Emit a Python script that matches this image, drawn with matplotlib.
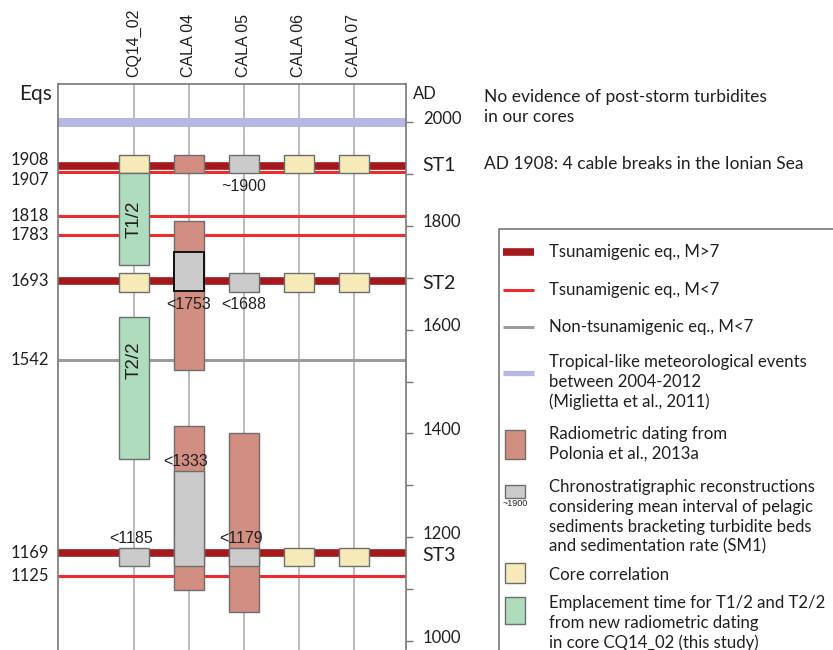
import matplotlib.pyplot as plt
import matplotlib.transforms as mtransforms
from matplotlib.patches import Rectangle
from matplotlib.lines import Line2D

# cores (x positions are just their index)
cores = ["CQ14_02", "CALA 04", "CALA 05", "CALA 06", "CALA 07"]

# earthquakes (AD) and their type
eq_years = [1908, 1907, 1818, 1783, 1693, 1542, 1169, 1125]
eq_kind = ["big", "small", "small", "small", "big", "non", "big", "small"]
storm_year = 2000

# dated intervals per core (AD)
box_core = [0, 1, 2, 3, 4, 0, 1, 1, 0, 2, 3, 4, 0, 1, 1, 2, 2, 0, 3, 4]
box_bottom = [1901, 1901, 1901, 1901, 1901, 1725, 1522, 1674, 1673, 1673, 1673, 1673,
              1350, 1098, 1145, 1056, 1145, 1145, 1145, 1145]
box_top = [1936, 1936, 1936, 1936, 1936, 1901, 1810, 1750, 1710, 1710, 1710, 1710,
           1625, 1415, 1328, 1401, 1180, 1180, 1180, 1180]
box_kind = ["core", "radio", "chrono", "core", "core", "new", "radio", "chrono", "core", "chrono", "core", "core",
            "new", "radio", "chrono", "radio", "chrono", "chrono", "core", "core"]

notes_text = ["~1900", "<1753", "<1688", "<1333", "<1185", "<1179"]
notes_core = [2, 1, 2, 1, 0, 2]
notes_year = [1901, 1674, 1673, 1328, 1180, 1180]
notes_side = ["below", "below", "below", "above", "above", "above"]

t_labels = ["T1/2", "T2/2"]
t_years = [1813, 1542]

st_labels = ["ST1", "ST2", "ST3"]
st_years = [1908, 1693, 1169]

ad_ticks = list(range(1000, 2001, 100))
ad_labels = ["1000", "", "1200", "", "1400", "", "1600", "", "1800", "", "2000"]

fill = {"core": "#f5eab8", "radio": "#d28e80", "chrono": "#cbcbcb", "new": "#aedcbd"}
line_style = {"big": ("#a3191d", 5.5), "small": ("#ee2b2f", 2.2), "non": ("#9c9c9c", 2.2)}
eq_shift = {1908: 3, 1907: -1}       # pts, to separate overlapping lines
label_shift = {1908: 7, 1907: -7}
txt = "#231f20"
sans = "Lato"
arial = "Liberation Sans"

fig = plt.figure(figsize=(8.33, 6.5), dpi=100)
ax = fig.add_axes([58 / 833, 0, 348 / 833, 566 / 650])
ax.set_xlim(-1.38, 4.95)
ax.set_ylim(982.7, 2073.2)

for i in range(len(cores)):
    ax.axvline(i, color="#a8a8a8", lw=1.1, zorder=1)
    ax.annotate(cores[i], (i, 1), xycoords=ax.get_xaxis_transform(), xytext=(0, 5),
                textcoords="offset points", rotation=90, ha="center", va="bottom",
                fontsize=11.5, family=arial, color=txt)

ax.axhline(storm_year, color="#b4b8e2", lw=6.5, zorder=2)
for yr, kind in zip(eq_years, eq_kind):
    c, w = line_style[kind]
    tr = mtransforms.offset_copy(ax.get_yaxis_transform(), fig=fig, x=0, y=eq_shift.get(yr, 0), units="points")
    ax.plot([0, 1], [yr, yr], color=c, lw=w, transform=tr, solid_capstyle="butt", zorder=2)
    ltr = mtransforms.offset_copy(ax.get_yaxis_transform(), fig=fig, x=0, y=label_shift.get(yr, 0), units="points")
    ax.text(-0.026, yr, str(yr), transform=ltr, ha="right", va="center", fontsize=12, family=sans, color=txt)

hw = 0.27
for c, b, t, k in zip(box_core, box_bottom, box_top, box_kind):
    black = (k == "chrono" and c == 1 and b == 1674)
    ax.add_patch(Rectangle((c - hw, b), 2 * hw, t - b, facecolor=fill[k],
                           edgecolor="#111111" if black else "#6e6e6e",
                           lw=1.4 if black else 1.0, zorder=4 if black else 3))

for s, yr in zip(t_labels, t_years):
    ax.text(0, yr, s, rotation=90, ha="center", va="center", fontsize=13.5, family=arial, color=txt, zorder=5)

for s, c, yr, side in zip(notes_text, notes_core, notes_year, notes_side):
    dy, va = {"below": (-4, "top"), "above": (1, "bottom")}[side]
    ax.annotate(s, (c, yr), xytext=(-2 if side == "above" else 0, dy), textcoords="offset points",
                ha="center", va=va, fontsize=11.5, family=arial, color=txt, zorder=6)

# right AD axis
ax.yaxis.tick_right()
ax.set_yticks(ad_ticks)
ax.set_yticklabels([])
ax.tick_params(axis="y", direction="out", length=5, width=1, color="#777777")
ax.set_xticks([])
for s in ["left", "right", "top"]:
    ax.spines[s].set_color("#777777")
    ax.spines[s].set_linewidth(1.2)
ax.spines["bottom"].set_visible(False)
num_tr = mtransforms.offset_copy(ax.get_yaxis_transform(), fig=fig, x=0, y=2.5, units="points")
for yr, s in zip(ad_ticks, ad_labels):
    ax.text(1.048, yr, s, transform=num_tr, ha="left", va="center", fontsize=12, family=sans, color=txt)
for s, yr in zip(st_labels, st_years):
    st_tr = mtransforms.offset_copy(ax.get_yaxis_transform(), fig=fig, x=0, y=eq_shift.get(yr, -1.5), units="points")
    ax.text(1.048, yr, s, transform=st_tr, ha="left", va="center",
            fontsize=14, family=sans, color=txt)

# overlay in pixel units for the free text and the legend
lax = fig.add_axes([0, 0, 1, 1])
lax.set_xlim(0, 833)
lax.set_ylim(650, 0)
lax.axis("off")
lax.text(52, 94, "Eqs", ha="right", va="center", fontsize=15, family=sans, color=txt)
lax.text(413, 94, "AD", ha="left", va="center", fontsize=12, family=sans, color=txt)
lax.text(484, 107, "No evidence of post-storm turbidites\nin our cores", ha="left", va="center",
         fontsize=12.5, family=sans, color=txt, linespacing=1.3)
lax.text(484, 164, "AD 1908: 4 cable breaks in the Ionian Sea", ha="left", va="center",
         fontsize=12.5, family=sans, color=txt)

lax.add_line(Line2D([499, 499, 840], [655, 229, 229], color="#777777", lw=1.2))
lx0, lx1, tx = 503, 534, 549
for y, (c, w) in zip([252, 290, 327], [line_style["big"], line_style["small"], line_style["non"]]):
    lax.plot([lx0, lx1], [y, y], color=c, lw=w, solid_capstyle="butt")
lax.plot([lx0, lx1], [373, 373], color="#b4b8e2", lw=3.8, solid_capstyle="butt")
entries = [
    (252, "Tsunamigenic eq., M>7"),
    (290, "Tsunamigenic eq., M<7"),
    (327, "Non-tsunamigenic eq., M<7"),
    (382, "Tropical-like meteorological events\nbetween 2004-2012\n(Miglietta et al., 2011)"),
    (444, "Radiometric dating from\nPolonia et al., 2013a"),
    (517, "Chronostratigraphic reconstructions\nconsidering mean interval of pelagic\n"
          "sediments bracketing turbidite beds\nand sedimentation rate (SM1)"),
    (575, "Core correlation"),
    (623, "Emplacement time for T1/2 and T2/2\nfrom new radiometric dating\nin core CQ14_02 (this study)"),
]
for y, s in entries:
    lax.text(tx, y, s, ha="left", va="center", fontsize=12.1, family=sans, color=txt, linespacing=1.3)
for (y, h, k) in [(430, 29, "radio"), (485, 13, "chrono"), (563, 20, "core"), (597, 27, "new")]:
    lax.add_patch(Rectangle((505, y), 20, h, facecolor=fill[k], edgecolor="#6e6e6e", lw=1.0))
lax.text(515, 503, "~1900", ha="center", va="center", fontsize=6.5, family=arial, color=txt)

fig.savefig("out.png", dpi=100)
